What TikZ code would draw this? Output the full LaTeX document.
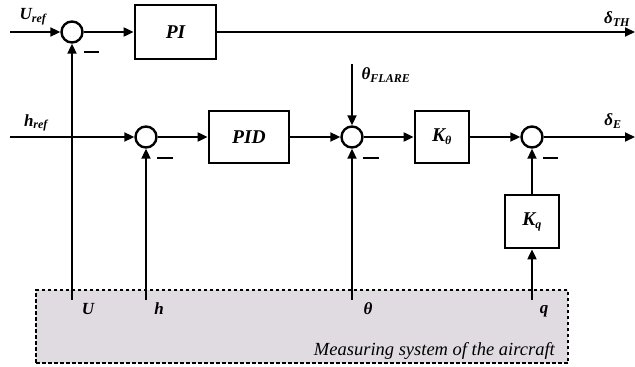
\documentclass[tikz,border=0pt]{standalone}
\usepackage{fontspec}
\setmainfont{Liberation Serif}
\usetikzlibrary{arrows.meta}
\definecolor{measfill}{RGB}{223,219,225}
\newcommand{\subsz}{\fontsize{12}{13}\selectfont}
\tikzset{
  sig/.style={line width=2pt},
  arr/.style={sig,-{Triangle[length=10pt,width=9pt]}},
  sumnode/.style={circle,draw,line width=2.4pt,minimum size=21pt,inner sep=0pt},
  block/.style={rectangle,draw,line width=2.8pt,inner sep=0pt,font=\fontsize{19.5}{21}\selectfont\bfseries\itshape},
  lbl/.style={inner sep=0pt,font=\fontsize{17}{19}\selectfont\bfseries\itshape},
  minus/.style={line width=2.2pt},
  meas/.style={draw,line width=1.2pt,fill=measfill,dash pattern=on 3.5pt off 2.5pt}
}
\begin{document}
\begin{tikzpicture}[x=1pt,y=-1pt]
\useasboundingbox (0,0) rectangle (635,367);

% measuring system
\node[meas,minimum width=532pt,minimum height=73pt,inner sep=0pt] (ms) at (302,326.5) {};
\node[inner sep=0pt,anchor=base east,font=\fontsize{18.5}{20}\selectfont\itshape] (mstxt) at (555,355) {Measuring system of the aircraft};

% outputs of the measuring system
\coordinate (mU) at (72,300);
\coordinate (mh) at (146,300);
\coordinate (mth) at (352,300);
\coordinate (mq) at (532,300);
\node[lbl] (lU) at (88,309) {U};
\node[lbl] (lh) at (159,309) {h};
\node[lbl] (lth) at (368,309) {θ};
\node[lbl] (lq) at (544,311) {q};

% speed loop
\coordinate (uin) at (10,32);
\node[sumnode] (s1) at (72,32) {};
\node[block,minimum width=81pt,minimum height=54pt] (pi) at (175.5,32) {PI};
\coordinate (uout) at (635,32);
\node[lbl] (uref) at (33,17) {U\textsubscript{\subsz ref}};
\node[lbl] (dth) at (617,19) {δ\textsubscript{\subsz TH}};

\draw[arr] (uin) -- (s1);
\draw[arr] (s1) -- (pi);
\draw[arr] (pi) -- (uout);
\draw[arr] (mU) -- (s1);
\draw[minus] (84,52) -- (99,52);

% altitude / pitch loop
\coordinate (hin) at (10,137);
\node[sumnode] (s2) at (146,137) {};
\node[block,minimum width=80pt,minimum height=52pt] (pid) at (249,137) {PID};
\node[sumnode] (s3) at (352,137) {};
\node[block,minimum width=54pt,minimum height=52pt] (kth) at (442,137) {K\textsubscript{\subsz θ}};
\node[sumnode] (s4) at (532,137) {};
\coordinate (eout) at (635,137);
\node[block,minimum width=54pt,minimum height=53pt] (kq) at (532,221.5) {K\textsubscript{\subsz q}};
\coordinate (flare) at (352,64);

\node[lbl] (href) at (36,123) {h\textsubscript{\subsz ref}};
\node[lbl] (de) at (613,121) {δ\textsubscript{\subsz E}};
\node[lbl] (lfl) at (386,75) {θ\textsubscript{\subsz FLARE}};

\draw[arr] (hin) -- (s2);
\draw[arr] (s2) -- (pid);
\draw[arr] (pid) -- (s3);
\draw[arr] (s3) -- (kth);
\draw[arr] (kth) -- (s4);
\draw[arr] (s4) -- (eout);
\draw[arr] (flare) -- (s3);
\draw[arr] (mh) -- (s2);
\draw[arr] (mth) -- (s3);
\draw[arr] (mq) -- (kq);
\draw[arr] (kq) -- (s4);

\draw[minus] (157,158) -- (173,158);
\draw[minus] (363,158) -- (379,158);
\draw[minus] (543,158) -- (558,158);
\end{tikzpicture}
\end{document}
